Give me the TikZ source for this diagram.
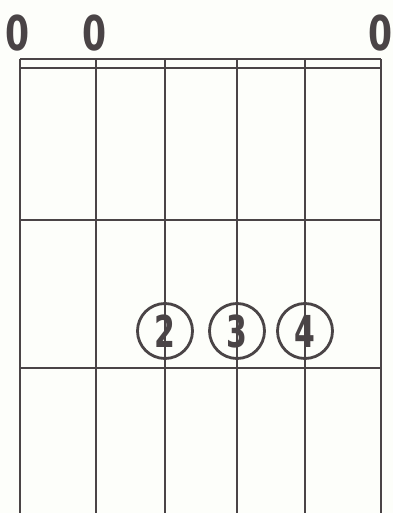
\documentclass[tikz,border=0pt]{standalone}
\usepackage{fontspec}
\setmainfont{DejaVu Sans}
\definecolor{ink}{HTML}{4A4446}
\definecolor{paper}{HTML}{FDFEFA}
\begin{document}
\begin{tikzpicture}[x=1pt,y=-1pt,
  string/.style={draw=ink,line width=2pt},
  fret/.style={draw=ink,line width=2pt},
  openmark/.style={text=ink,inner sep=0pt,font=\fontsize{48}{48}\selectfont\bfseries},
  finger/.style={circle,draw=ink,line width=2.8pt,minimum size=55pt,inner sep=0pt,text=ink,font=\fontsize{44}{44}\selectfont\bfseries}]
\fill[paper] (0,0) rectangle (393,513);
\useasboundingbox (0,0) rectangle (393,513);
% strings
\foreach \n/\x in {s1/20,s2/96,s3/165,s4/237,s5/305,s6/381}{
  \coordinate (\n t) at (\x,59);
  \coordinate (\n b) at (\x,513);
  \draw[string] (\n t) -- (\n b);
}
% nut and frets
\draw[fret] (s1t) -- (s6t);
\coordinate (n2l) at (20,68); \coordinate (n2r) at (381,68);
\draw[fret] (n2l) -- (n2r);
\coordinate (f1l) at (20,220); \coordinate (f1r) at (381,220);
\draw[fret] (f1l) -- (f1r);
\coordinate (f2l) at (20,368); \coordinate (f2r) at (381,368);
\draw[fret] (f2l) -- (f2r);
% open strings
\node[openmark] (o1) at (18,33) {\scalebox{0.72}[1]{0}};
\node[openmark] (o2) at (95,33) {\scalebox{0.72}[1]{0}};
\node[openmark] (o6) at (381,33) {\scalebox{0.72}[1]{0}};
% fingers
\node[finger] (c2) at (165,331) {\scalebox{0.68}[1]{2}};
\node[finger] (c3) at (237,331) {\scalebox{0.68}[1]{3}};
\node[finger] (c4) at (305,331) {\scalebox{0.68}[1]{4}};
\end{tikzpicture}
\end{document}
